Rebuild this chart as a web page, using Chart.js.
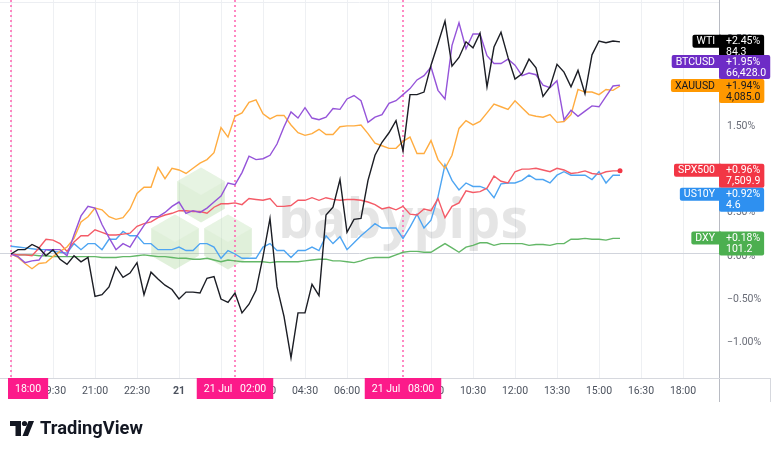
<!DOCTYPE html>
<html>
<head>
<meta charset="utf-8">
<script src="https://cdn.jsdelivr.net/npm/chart.js@4.4.1/dist/chart.umd.min.js"></script>
<style>
  html, body { margin: 0; padding: 0; background: #fff; }
  #wrap { width: 780px; height: 453px; }
</style>
</head>
<body>
<div id="wrap"><canvas id="myChart" width="780" height="453"></canvas></div>
<script>
// Symbole i ostatnie wartości (etykiety na prawej osi)
const symbols = ['WTI', 'BTCUSD', 'XAUUSD', 'SPX500', 'US10Y', 'DXY'];
const lastPct = ['+2.45%', '+1.95%', '+1.94%', '+0.96%', '+0.92%', '+0.18%'];
const lastPrice = ['84.3', '66,428.0', '4,085.0', '7,509.9', '4.6', '101.2'];

// Zmiana w % od 18:00, co 15 minut
const wti = [0.00, 0.05, 0.05, 0.11, 0.07, -0.02, 0.05, -0.06, -0.12, -0.02, -0.09, -0.04, -0.49, -0.47, -0.38, -0.15,
  -0.27, -0.22, -0.10, -0.47, -0.21, -0.29, -0.36, -0.41, -0.52, -0.44, -0.44, -0.45, -0.28, -0.26, -0.52, -0.56,
  -0.45, -0.68, -0.58, -0.42, -0.03, 0.41, -0.38, -0.72, -1.20, -0.68, -0.68, -0.35, -0.48, 0.45, 0.54, 0.86,
  0.25, 0.40, 0.41, 0.85, 1.14, 1.29, 1.40, 1.54, 1.19, 1.84, 1.84, 1.87, 2.18, 2.43, 2.69, 2.17,
  2.27, 2.45, 2.38, 2.55, 1.93, 2.39, 2.56, 2.27, 2.02, 2.08, 2.25, 2.15, 1.82, 1.93, 2.19, 2.10,
  1.93, 2.12, 1.85, 2.30, 2.46, 2.44, 2.46, 2.45];
const btcusd = [0.00, -0.03, -0.10, -0.08, -0.07, 0.05, 0.05, 0.05, -0.02, 0.22, 0.44, 0.55, 0.53, 0.34, 0.19, 0.05,
  0.12, 0.08, 0.21, 0.33, 0.43, 0.43, 0.48, 0.55, 0.60, 0.47, 0.50, 0.48, 0.53, 0.60, 0.67, 0.82,
  0.80, 0.94, 1.13, 1.09, 1.10, 1.14, 1.27, 1.47, 1.64, 1.57, 1.69, 1.57, 1.55, 1.58, 1.68, 1.67,
  1.79, 1.83, 1.77, 1.52, 1.58, 1.61, 1.74, 1.77, 1.84, 1.91, 2.01, 2.06, 2.16, 1.89, 1.79, 2.41,
  2.67, 2.37, 2.54, 2.54, 2.29, 2.20, 2.20, 2.25, 2.18, 2.06, 2.09, 2.07, 1.95, 1.92, 2.00, 1.55,
  1.66, 1.59, 1.65, 1.71, 1.70, 1.82, 1.94, 1.95];
const xauusd = [0.00, -0.04, -0.11, -0.17, -0.11, -0.10, -0.03, 0.03, 0.08, 0.18, 0.37, 0.43, 0.53, 0.51, 0.43, 0.40,
  0.42, 0.52, 0.70, 0.77, 0.77, 1.00, 0.87, 0.99, 0.97, 0.93, 0.99, 1.05, 1.09, 1.17, 1.46, 1.35,
  1.59, 1.63, 1.75, 1.78, 1.62, 1.56, 1.60, 1.60, 1.49, 1.40, 1.37, 1.39, 1.44, 1.38, 1.38, 1.47,
  1.48, 1.48, 1.49, 1.39, 1.28, 1.25, 1.22, 1.22, 1.30, 1.35, 1.16, 1.16, 1.31, 1.09, 0.99, 1.14,
  1.45, 1.54, 1.49, 1.53, 1.63, 1.73, 1.70, 1.67, 1.77, 1.69, 1.61, 1.59, 1.58, 1.61, 1.52, 1.53,
  1.61, 1.90, 1.87, 1.87, 1.84, 1.90, 1.89, 1.94];
const spx500 = [0.00, -0.01, -0.01, -0.02, 0.07, 0.17, 0.16, 0.12, 0.03, 0.14, 0.21, 0.21, 0.28, 0.25, 0.22, 0.22,
  0.23, 0.24, 0.32, 0.35, 0.37, 0.42, 0.45, 0.47, 0.50, 0.50, 0.49, 0.49, 0.47, 0.54, 0.58, 0.58,
  0.59, 0.57, 0.64, 0.63, 0.62, 0.64, 0.55, 0.55, 0.56, 0.62, 0.62, 0.65, 0.62, 0.65, 0.63, 0.62,
  0.63, 0.63, 0.62, 0.60, 0.57, 0.52, 0.54, 0.51, 0.55, 0.46, 0.45, 0.52, 0.50, 0.64, 0.42, 0.55,
  0.59, 0.73, 0.71, 0.72, 0.76, 0.90, 0.84, 0.82, 0.95, 0.98, 0.98, 0.99, 0.97, 0.95, 0.99, 0.97,
  0.93, 0.94, 0.96, 0.93, 0.92, 0.95, 0.96, 0.96];
const us10y = [0.09, 0.08, 0.07, 0.06, 0.05, 0.05, 0.03, 0.02, 0.01, 0.12, 0.05, 0.12, 0.12, 0.05, 0.17, 0.17,
  0.26, 0.21, 0.21, 0.12, 0.12, 0.05, 0.05, 0.05, 0.08, 0.04, 0.04, 0.12, 0.12, 0.08, -0.05, 0.04,
  0.00, -0.05, -0.05, -0.05, 0.08, 0.12, 0.04, 0.04, -0.04, 0.04, 0.04, 0.08, 0.04, 0.21, 0.12, 0.20,
  0.05, 0.13, 0.21, 0.28, 0.35, 0.30, 0.30, 0.30, 0.18, 0.31, 0.46, 0.30, 0.39, 0.66, 1.03, 0.85,
  0.74, 0.82, 0.78, 0.78, 0.75, 0.65, 0.81, 0.82, 0.82, 0.85, 0.91, 0.86, 0.86, 0.82, 0.91, 0.95,
  0.91, 0.91, 0.91, 0.86, 0.95, 0.82, 0.91, 0.91];
const dxy = [0.00, -0.01, -0.01, -0.01, -0.02, -0.02, -0.03, -0.03, -0.03, -0.03, -0.03, -0.03, -0.03, -0.04, -0.04, -0.04,
  -0.03, -0.03, -0.02, -0.01, -0.02, -0.03, -0.03, -0.04, -0.05, -0.05, -0.06, -0.06, -0.05, -0.07, -0.09, -0.07,
  -0.08, -0.09, -0.09, -0.09, -0.09, -0.10, -0.09, -0.09, -0.09, -0.09, -0.08, -0.07, -0.06, -0.06, -0.08, -0.08,
  -0.09, -0.10, -0.08, -0.05, -0.04, -0.04, -0.04, -0.01, 0.02, 0.03, 0.03, 0.02, 0.02, 0.07, 0.12, 0.07,
  0.02, 0.08, 0.10, 0.13, 0.13, 0.10, 0.12, 0.12, 0.12, 0.12, 0.10, 0.11, 0.11, 0.10, 0.12, 0.12,
  0.17, 0.17, 0.18, 0.17, 0.17, 0.16, 0.18, 0.18];

// Oś X: godziny od 18:00 (20 Jul)
const tickHours = [0, 1.5, 3, 4.5, 6, 7.5, 9, 10.5, 12, 13.5, 15, 16.5, 18, 19.5, 21, 22.5, 24];
const tickLabels = ['18:00', '19:30', '21:00', '22:30', '21', '01:30', '03:00', '04:30', '06:00',
  '07:30', '09:00', '10:30', '12:00', '13:30', '15:00', '16:30', '18:00'];
const yTicks = [-1, -0.5, 0, 0.5, 1, 1.5, 2, 2.5];

// Pionowe linie sesji (różowe)
const sessionHours = [0, 8, 14];
const sessionLabels = ['18:00', '21 Jul   02:00', '21 Jul   08:00'];

const series = [wti, btcusd, xauusd, spx500, us10y, dxy];
const lineColors = ['#1b1d24', '#9554d9', '#ffac40', '#f45b67', '#4ea5f2', '#63b767'];
const tagColors = ['#000000', '#6e2cc6', '#ff9800', '#f23645', '#2e90f0', '#4caf50'];
const tagTextColors = ['#ffffff', '#ffffff', '#131722', '#ffffff', '#ffffff', '#ffffff'];

const times = wti.map((_, i) => i * 0.25);
const FONT = 'Roboto';

// bez automatycznego marginesu na etykiety
function noPadding(s) {
    s.paddingLeft = 0;
    s.paddingRight = 0;
    s.paddingTop = 0;
    s.paddingBottom = 0;
}

function drawWatermark(ctx) {
    ctx.save();
    const hexes = [[201, 195], [175, 242], [228, 242]];
    const r = 27.5;
    hexes.forEach(([cx, cy]) => {
        ctx.beginPath();
        for (let k = 0; k < 6; k++) {
            const ang = Math.PI / 180 * (60 * k - 90);
            const px = cx + r * Math.cos(ang), py = cy + r * Math.sin(ang);
            if (k) ctx.lineTo(px, py); else ctx.moveTo(px, py);
        }
        ctx.closePath();
        ctx.fillStyle = 'rgba(139, 201, 120, 0.27)';
        ctx.fill();
        ctx.beginPath();
        ctx.moveTo(cx, cy - r);
        ctx.lineTo(cx + r * 0.866, cy - r / 2);
        ctx.lineTo(cx, cy);
        ctx.lineTo(cx - r * 0.866, cy - r / 2);
        ctx.closePath();
        ctx.fillStyle = 'rgba(255, 255, 255, 0.22)';
        ctx.fill();
    });
    // napis babypips
    ctx.font = 'bold 100px "Open Sans"';
    const w = ctx.measureText('babypips').width;
    const size = 100 * 250 / w;
    ctx.font = `bold ${size}px "Open Sans"`;
    ctx.fillStyle = 'rgba(0, 0, 0, 0.1)';
    ctx.textBaseline = 'alphabetic';
    ctx.fillText('babypips', 278, 238);
    ctx.restore();
}

function drawLogo(ctx) {
    ctx.save();
    ctx.fillStyle = '#131722';
    ctx.fillRect(10, 421, 11, 5);
    ctx.fillRect(15.5, 421, 5.5, 15);
    ctx.beginPath();
    ctx.arc(24.5, 423.5, 2.6, 0, Math.PI * 2);
    ctx.fill();
    ctx.beginPath();
    ctx.moveTo(22.5, 436);
    ctx.lineTo(28, 436);
    ctx.lineTo(34, 421);
    ctx.lineTo(28.5, 421);
    ctx.closePath();
    ctx.fill();
    ctx.font = `bold 100px ${FONT}`;
    const w = ctx.measureText('TradingView').width;
    ctx.font = `bold ${100 * 103 / w}px ${FONT}`;
    ctx.textBaseline = 'middle';
    ctx.fillText('TradingView', 40, 429);
    ctx.restore();
}

const overlay = {
    id: 'overlay',
    beforeDatasetsDraw(chart) {
        const { ctx, chartArea: a, scales: { x } } = chart;
        drawWatermark(ctx);
        ctx.save();
        // górna ramka
        ctx.strokeStyle = '#eceef2';
        ctx.lineWidth = 1;
        ctx.beginPath(); ctx.moveTo(a.left, 2.5); ctx.lineTo(a.right, 2.5); ctx.stroke();
        // różowe linie kropkowane
        ctx.strokeStyle = '#ff62b0';
        ctx.lineWidth = 1.5;
        ctx.setLineDash([2, 3]);
        sessionHours.forEach(h => {
            const px = Math.round(x.getPixelForValue(h));
            ctx.beginPath(); ctx.moveTo(px, a.top); ctx.lineTo(px, a.bottom); ctx.stroke();
        });
        ctx.restore();
    },
    afterDraw(chart) {
        const { ctx, chartArea: a, scales: { x, y } } = chart;
        ctx.save();
        // przedłużenie linii osi
        ctx.strokeStyle = '#b8bbc3';
        ctx.lineWidth = 1;
        ctx.beginPath(); ctx.moveTo(a.right + 0.5, a.bottom); ctx.lineTo(a.right + 0.5, 402); ctx.stroke();
        ctx.strokeStyle = '#d6d8de';
        ctx.beginPath(); ctx.moveTo(770.5, a.bottom); ctx.lineTo(770.5, 402); ctx.stroke();
        ctx.beginPath(); ctx.moveTo(a.right, a.bottom + 0.5); ctx.lineTo(770, a.bottom + 0.5); ctx.stroke();

        // etykiety sesji na osi X
        ctx.font = `10.5px ${FONT}`;
        ctx.textBaseline = 'middle';
        sessionHours.forEach((h, i) => {
            const px = x.getPixelForValue(h);
            const tw = ctx.measureText(sessionLabels[i]).width;
            const bw = tw + 14;
            const left = Math.max(8, px - bw / 2);
            ctx.fillStyle = '#fc1a8a';
            ctx.fillRect(left, a.bottom, bw, 21);
            ctx.fillStyle = '#ffffff';
            ctx.textAlign = 'center';
            ctx.fillText(sessionLabels[i], left + bw / 2, a.bottom + 11);
        });

        // etykiety wartości na prawej osi
        const order = [0, 2, 3, 5, 1, 4];
        const H = 24;
        const placed = [];
        order.forEach(k => {
            const v = series[k][series[k].length - 1];
            let top = y.getPixelForValue(v) - 7;
            placed.forEach(p => {
                if (top < p.top + H && top + H > p.top) {
                    top = v > p.v ? p.top - H : p.top + H;
                }
            });
            placed.push({ k, v, top });
        });
        placed.forEach(({ k, top }) => {
            const ax = a.right;
            ctx.font = `10.5px ${FONT}`;
            ctx.textAlign = 'left';
            const nw = ctx.measureText(symbols[k]).width + 8;
            const vw = Math.max(ctx.measureText(lastPct[k]).width, ctx.measureText(lastPrice[k]).width) + 11;
            ctx.fillStyle = tagColors[k];
            ctx.beginPath();
            ctx.roundRect(ax - nw, top, nw + 2, 13, [2, 0, 0, 2]);
            ctx.fill();
            ctx.beginPath();
            ctx.roundRect(ax, top, vw, H, [0, 2, 2, 2]);
            ctx.fill();
            ctx.fillStyle = tagTextColors[k];
            ctx.fillText(symbols[k], ax - nw + 4, top + 7);
            ctx.fillText(lastPct[k], ax + 7, top + 7);
            ctx.fillText(lastPrice[k], ax + 7, top + 18);
        });
        ctx.restore();
        drawLogo(ctx);
    }
};

const ctx = document.getElementById('myChart').getContext('2d');
const myChart = new Chart(ctx, {
    type: 'line',
    data: {
        datasets: series.map((vals, k) => ({
            label: symbols[k],
            data: vals.map((v, i) => ({ x: times[i], y: v })),
            borderColor: lineColors[k],
            backgroundColor: lineColors[k],
            borderWidth: 1.4,
            pointRadius: k === 3 ? (c => c.dataIndex === vals.length - 1 ? 2.5 : 0) : 0,
            pointBackgroundColor: '#f23645',
            pointBorderWidth: 0,
            tension: 0
        }))
    },
    options: {
        responsive: false,
        animation: false,
        events: [],
        layout: { autoPadding: false, padding: { left: 0, right: 0, top: 0, bottom: 51 } },
        plugins: { legend: { display: false }, tooltip: { enabled: false } },
        scales: {
            x: {
                type: 'linear',
                min: -11 / 28,
                max: -11 / 28 + 719 / 28,
                afterBuildTicks: s => { s.ticks = tickHours.map(v => ({ value: v })); },
                afterFit: s => { s.height = 24; noPadding(s); },
                grid: { color: '#eef0f3', drawTicks: false },
                border: { color: '#d6d8de' },
                ticks: {
                    padding: 7,
                    maxRotation: 0,
                    autoSkip: false,
                    color: '#4c525e',
                    font: c => ({ family: FONT, size: 10.5, weight: c.tick && c.tick.value === 6 ? 'bold' : 'normal' }),
                    // etykieta pod różowym znacznikiem sesji jest zakryta
                    callback: (v, i) => (sessionHours.includes(v) ? '' : tickLabels[i])
                }
            },
            y: {
                position: 'right',
                min: -1.432,
                max: 2.933,
                afterBuildTicks: s => { s.ticks = yTicks.map(v => ({ value: v })); },
                afterFit: s => { s.width = 61; noPadding(s); },
                grid: { color: c => (c.tick && c.tick.value === 0 ? '#d1d4dc' : 'rgba(0,0,0,0)'), drawTicks: false },
                border: { color: '#b8bbc3' },
                ticks: {
                    padding: 8,
                    labelOffset: 2,
                    color: '#6a6d78',
                    font: { family: FONT, size: 10.5 },
                    callback: v => (v < 0 ? '\u2212' : '') + Math.abs(v).toFixed(2) + '%'
                }
            }
        }
    },
    plugins: [overlay]
});
</script>
</body>
</html>
